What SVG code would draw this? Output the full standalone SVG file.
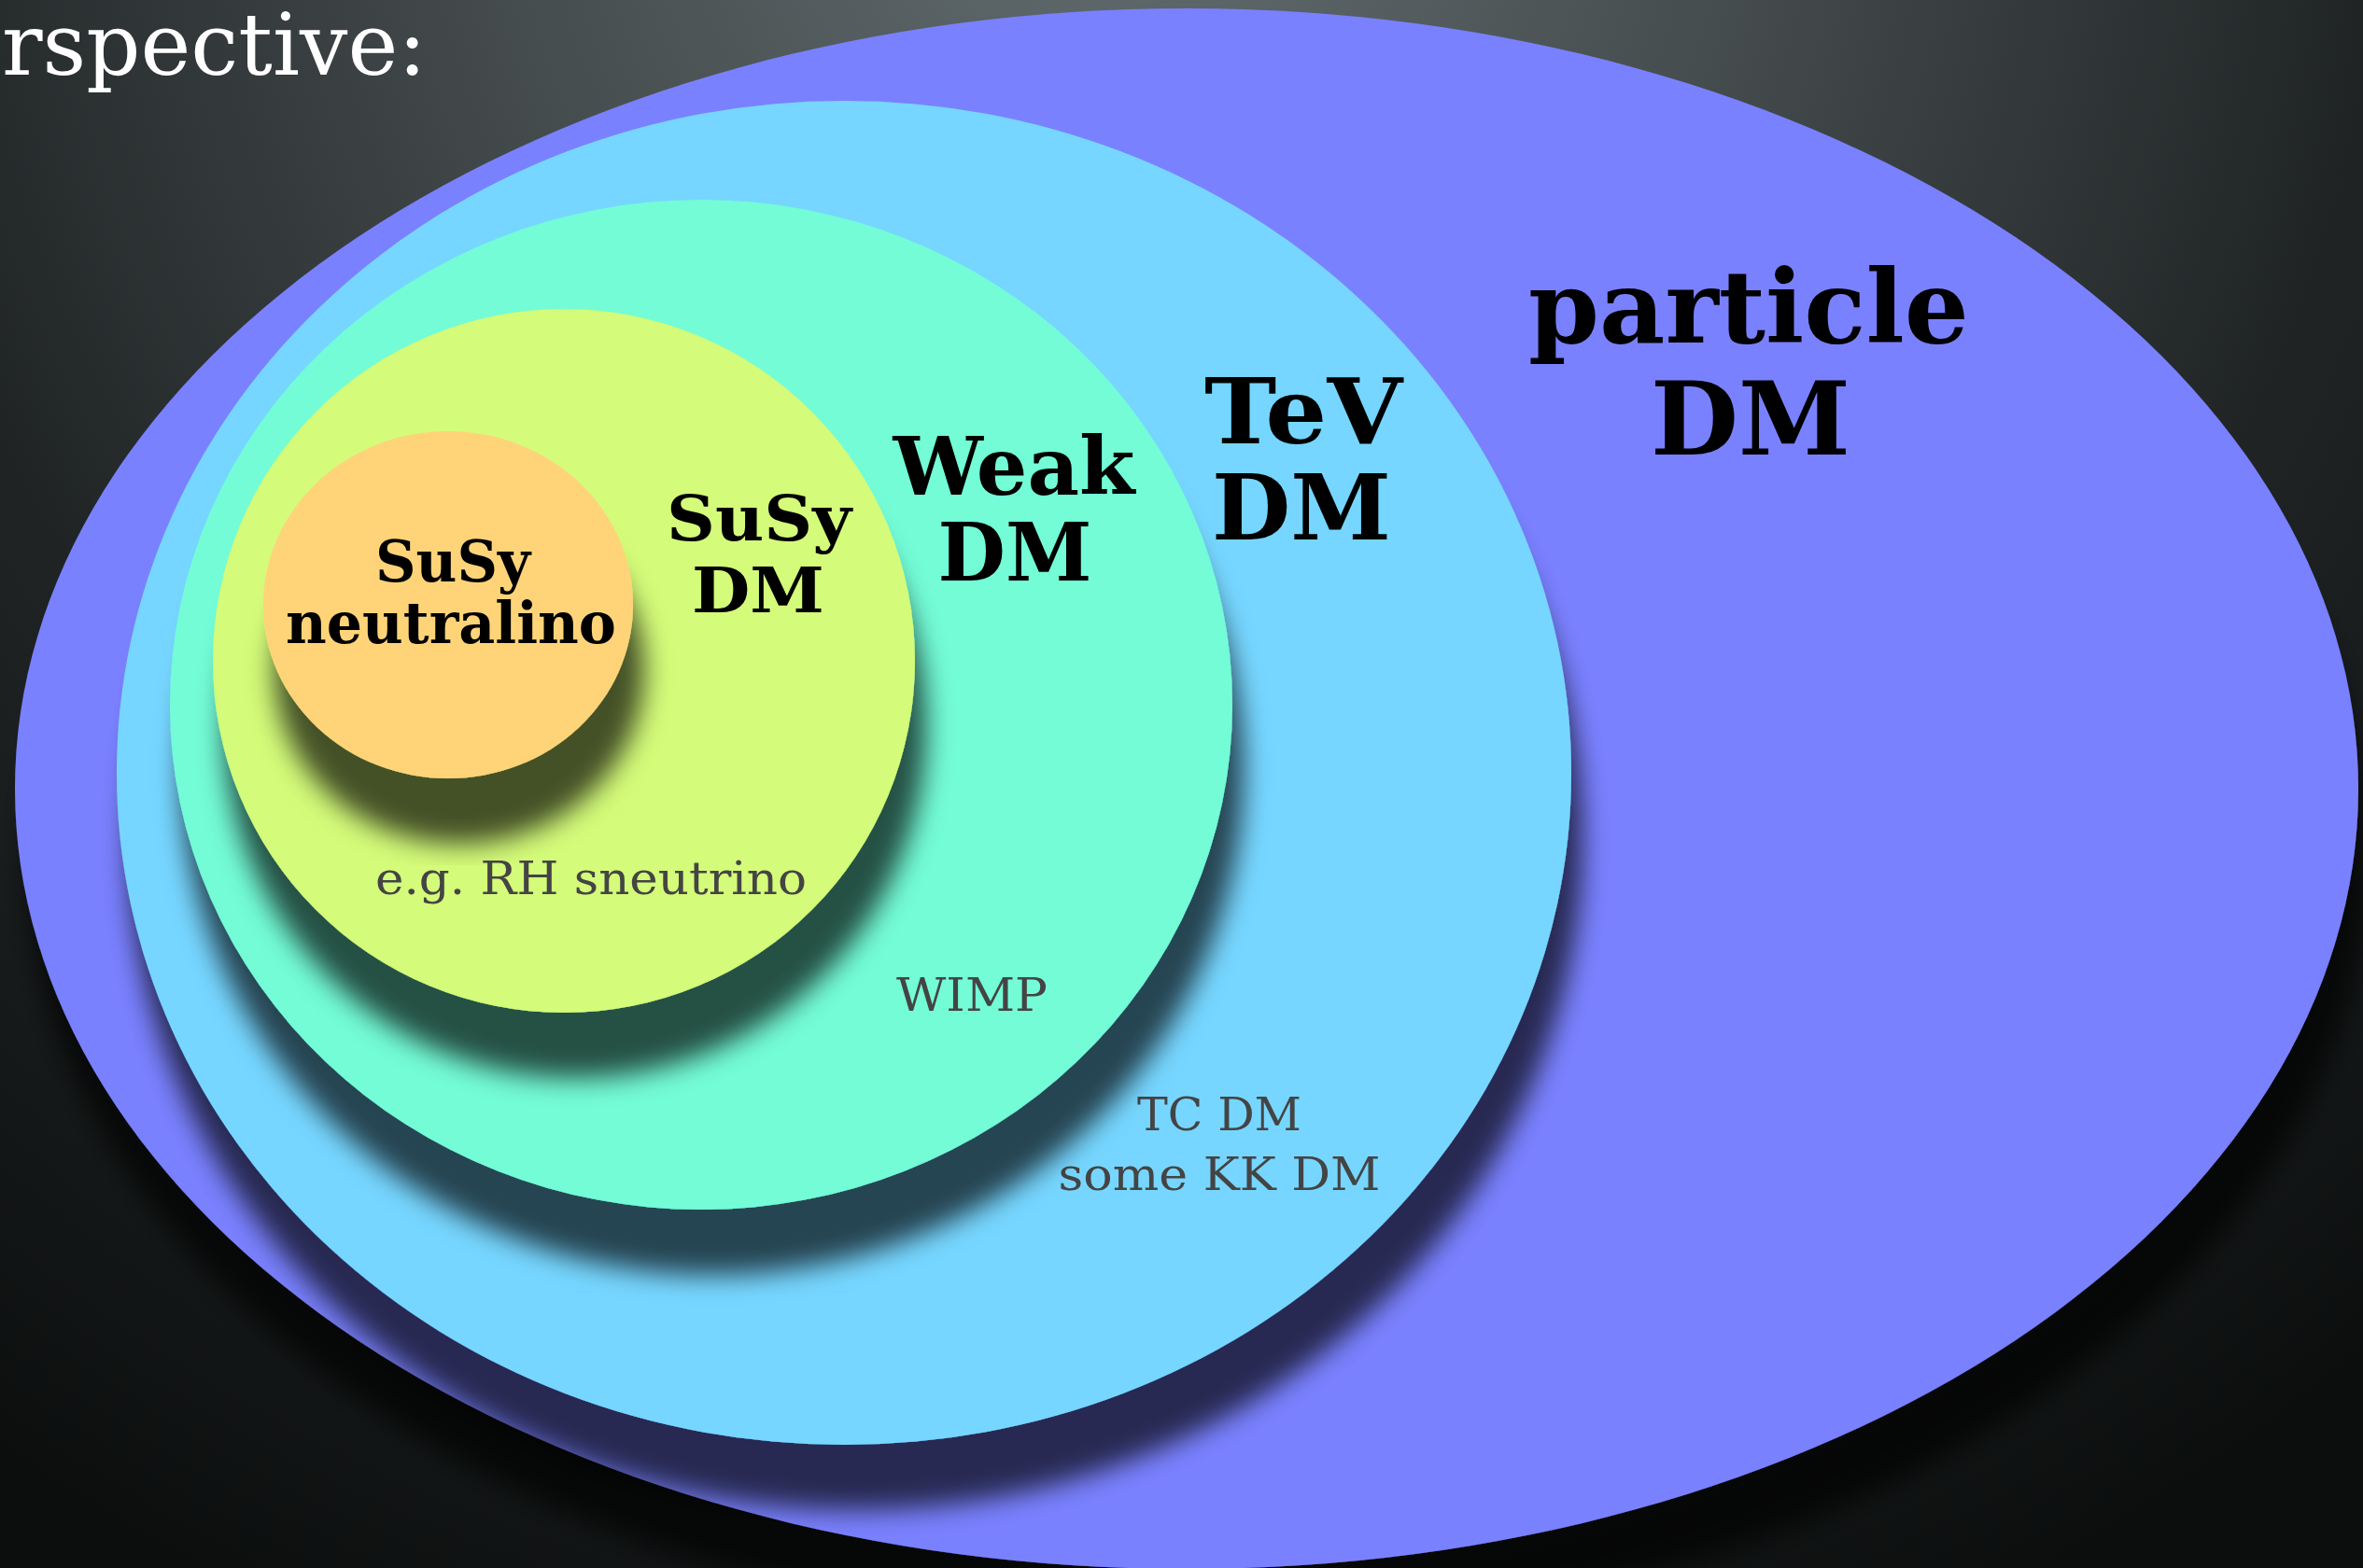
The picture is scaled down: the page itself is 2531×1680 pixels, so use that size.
<svg xmlns="http://www.w3.org/2000/svg" width="2531" height="1680" viewBox="0 0 2531 1680">
  <defs>
    <radialGradient id="bg" gradientUnits="userSpaceOnUse" cx="1200" cy="-150" r="2100">
      <stop offset="0" stop-color="#636d6f"/>
      <stop offset="0.32" stop-color="#454c4e"/>
      <stop offset="0.64" stop-color="#202425"/>
      <stop offset="1" stop-color="#0c0e0e"/>
    </radialGradient>
    <!-- soft drop shadow cast down and slightly right -->
    <filter id="drop" x="-10%" y="-10%" width="125%" height="135%">
      <feGaussianBlur in="SourceAlpha" stdDeviation="14"/>
      <feOffset dx="12" dy="70" result="blur"/>
      <feFlood flood-color="#000" flood-opacity="0.68"/>
      <feComposite in2="blur" operator="in" result="shadow"/>
      <feMerge>
        <feMergeNode in="shadow"/>
        <feMergeNode in="SourceGraphic"/>
      </feMerge>
    </filter>
    <style>
      .set { filter: url(#drop); }
      .bold { font-family: "DejaVu Serif", "Liberation Serif", serif; font-weight: bold; fill: #000; text-anchor: middle; }
      .note { font-family: "DejaVu Serif", "Liberation Serif", serif; fill: #444; text-anchor: middle; }
    </style>
  </defs>

  <!-- backdrop -->
  <rect x="0" y="0" width="2531" height="1680" fill="url(#bg)"/>
  <text x="2" y="80" font-family="DejaVu Serif, Liberation Serif, serif" font-size="92" fill="#fff" textLength="455" lengthAdjust="spacingAndGlyphs">rspective:</text>

  <!-- outermost set -->
  <g id="particle-dm">
    <ellipse class="set" cx="1271" cy="845" rx="1255" ry="836" fill="#7a81ff"/>
    <text class="bold" x="1873" y="367" font-size="108" textLength="472" lengthAdjust="spacingAndGlyphs">particle</text>
    <text class="bold" x="1875" y="487" font-size="108" textLength="214" lengthAdjust="spacingAndGlyphs">DM</text>
  </g>

  <g id="tev-dm">
    <ellipse class="set" cx="904" cy="828" rx="779" ry="720" fill="#76d6ff"/>
    <text class="bold" x="1396" y="475" font-size="97" textLength="212" lengthAdjust="spacingAndGlyphs">TeV</text>
    <text class="bold" x="1394" y="578" font-size="97" textLength="192" lengthAdjust="spacingAndGlyphs">DM</text>
    <text class="note" x="1306" y="1211" font-size="49" textLength="176" lengthAdjust="spacingAndGlyphs">TC DM</text>
    <text class="note" x="1306" y="1275" font-size="49" textLength="345" lengthAdjust="spacingAndGlyphs">some KK DM</text>
  </g>

  <g id="weak-dm">
    <ellipse class="set" cx="751" cy="755" rx="569" ry="541" fill="#73fcd6"/>
    <text class="bold" x="1086" y="530" font-size="86" textLength="259" lengthAdjust="spacingAndGlyphs">Weak</text>
    <text class="bold" x="1087" y="622" font-size="86" textLength="165" lengthAdjust="spacingAndGlyphs">DM</text>
    <text class="note" x="1041" y="1083" font-size="49" textLength="162" lengthAdjust="spacingAndGlyphs">WIMP</text>
  </g>

  <g id="susy-dm">
    <ellipse class="set" cx="604" cy="708" rx="376" ry="377" fill="#d4fb79"/>
    <text class="bold" x="813" y="579" font-size="68" textLength="198" lengthAdjust="spacingAndGlyphs">SuSy</text>
    <text class="bold" x="812" y="656" font-size="68" textLength="142" lengthAdjust="spacingAndGlyphs">DM</text>
    <text class="note" x="633" y="958" font-size="49" textLength="462" lengthAdjust="spacingAndGlyphs">e.g. RH sneutrino</text>
  </g>

  <g id="susy-neutralino">
    <ellipse class="set" cx="480" cy="648" rx="198" ry="186" fill="#ffd479"/>
    <text class="bold" x="485" y="623" font-size="62" textLength="166" lengthAdjust="spacingAndGlyphs">SuSy</text>
    <text class="bold" x="483" y="689" font-size="62" textLength="354" lengthAdjust="spacingAndGlyphs">neutralino</text>
  </g>

  <!-- nested sets only, no links between them -->
  <g id="connectors"/>
</svg>
